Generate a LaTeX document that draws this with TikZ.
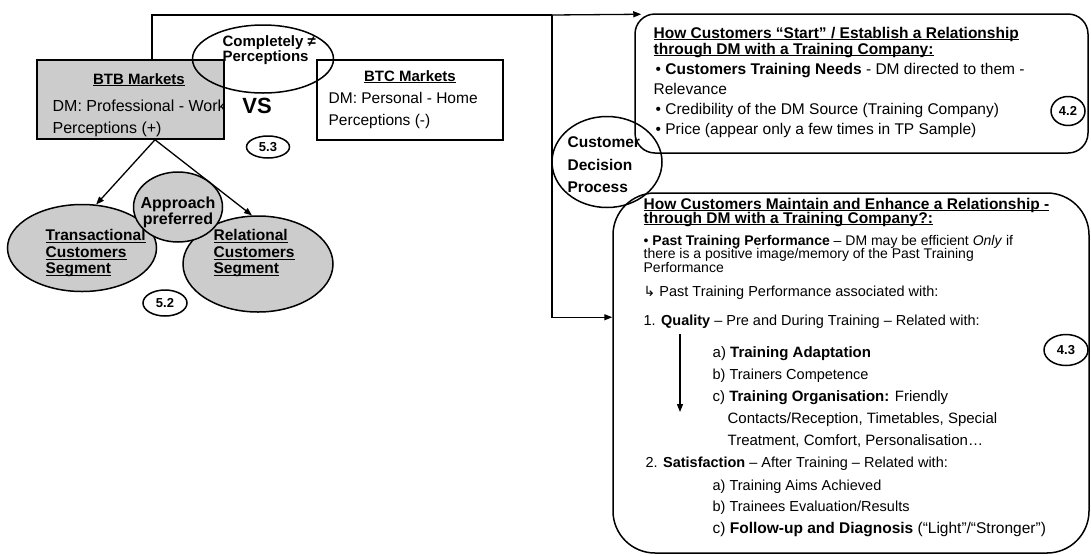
\documentclass[tikz,border=0pt]{standalone}
\usepackage{fontspec}
\setmainfont{Liberation Sans}
\newfontfamily\symfont{DejaVu Sans}
\usetikzlibrary{shapes.geometric,arrows.meta,calc}

% underlined heading text with a rule just below the baseline
\newsavebox\hdbox
\newcommand\hd[1]{\sbox\hdbox{#1}\usebox\hdbox\llap{\rule[-2.2pt]{\wd\hdbox}{1.1pt}}}
\newcommand\fsz[1]{\fontsize{#1}{#1}\selectfont}

\begin{document}
\begin{tikzpicture}[x=1pt,y=-1pt,
  line width=1.3pt,
  >={Triangle[length=8pt,width=6pt]},
  txt/.style={inner sep=0pt,anchor=base west,font=\fsz{15}},
  htxt/.style={inner sep=0pt,anchor=base west,font=\fsz{15.5}\bfseries},
  ctxt/.style={inner sep=0pt,anchor=base,font=\fsz{15}\bfseries},
  shade/.style={fill=black!20},
  oval/.style={ellipse,draw,line width=1.5pt,inner sep=0pt},
  tag/.style={ellipse,draw,line width=1.5pt,inner sep=0pt,font=\fsz{13}\bfseries},
  frame/.style={draw,line width=1.5pt,inner sep=0pt}
]
\useasboundingbox (0,0) rectangle (1091,555);

% ---------- market boxes ----------
\node[frame,shade,minimum width=187,minimum height=79] (btb) at (130.5,99.5) {};
\node[frame,fill=white,minimum width=186,minimum height=80] (btc) at (410,100) {};

\node[ctxt] (btbt) at (139,84) {\hd{BTB Markets}};
\begin{scope}
  \clip (btb.north west) rectangle (btb.south east);
  \node[txt,font=\fsz{16}] (btb1) at (52,111) {DM: Professional - Work};
\end{scope}
\node[txt,font=\fsz{16}] (btb2) at (52,133) {Perceptions (+)};

\node[ctxt] (btct) at (410,81) {\hd{BTC Markets}};
\node[txt,font=\fsz{15.5}] (btc1) at (328,103) {DM: Personal - Home};
\node[txt,font=\fsz{15.5}] (btc2) at (328,125) {Perceptions (-)};

\node[inner sep=0pt,anchor=base,font=\fsz{22}\bfseries] (vs) at (257,113) {VS};
\node[tag,minimum width=43,minimum height=22] (n53) at (268,147) {5.3};

% ---------- perceptions ellipse ----------
\node[oval,minimum width=141,minimum height=68] (cmp) at (263,59) {};
\node[inner sep=0pt,anchor=base west,font=\fsz{15}\bfseries] (cmp1) at (222,46) {Completely ≠};
\node[inner sep=0pt,anchor=base west,font=\fsz{15}\bfseries] (cmp2) at (222,61) {Perceptions};

% ---------- customer segments ----------
\node[oval,shade,minimum width=149,minimum height=87] (trans) at (82,248) {};
\node[oval,shade,minimum width=150,minimum height=96] (rel) at (258,264) {};
\node[oval,shade,minimum width=89,minimum height=70] (appr) at (178,207) {};

\node[htxt] (tr1) at (45,240.5) {\hd{Transactional}};
\node[htxt] (tr2) at (45,257.5) {\hd{Customers}};
\node[htxt] (tr3) at (45,273.5) {\hd{Segment}};
\node[htxt] (re1) at (213,240.5) {\hd{Relational}};
\node[htxt] (re2) at (213,257.5) {\hd{Customers}};
\node[htxt] (re3) at (213,273.5) {\hd{Segment}};
\node[ctxt,font=\fsz{16}\bfseries] (ap1) at (178,208.5) {Approach};
\node[ctxt,font=\fsz{16}\bfseries] (ap2) at (178,224.5) {preferred};

\node[tag,minimum width=44,minimum height=26] (n52) at (165,303) {5.2};

\coordinate (apex) at ($(btb.south)+(24.5,0)$);
\draw[->] (apex) -- (trans.72);
\draw[->] (apex) -- (rel.97);

% ---------- decision process ----------
\node[frame,rounded corners=20,minimum width=453,minimum height=139] (tbox) at (861.5,83.5) {};
\node[frame,rounded corners=42,minimum width=476,minimum height=360] (bbox) at (851,373) {};
\node[oval,minimum width=110,minimum height=91] (cdp) at (607,162) {};
\node[inner sep=0pt,anchor=base west,font=\fsz{15.5}\bfseries] (cdp1) at (567,147) {Customer};
\node[inner sep=0pt,anchor=base west,font=\fsz{15.5}\bfseries] (cdp2) at (567,170) {Decision};
\node[inner sep=0pt,anchor=base west,font=\fsz{15.5}\bfseries] (cdp3) at (567,192) {Process};

% connectors from the BTB box to both stages
\coordinate (split) at (552,15);
\draw ($(btb.north)+(21.5,0)$) |- (split);
\draw[->] (split) -- ($(tbox.north west)+(7,1)$);
\draw[->] (split) |- ($(bbox.north west)+(0,125)$);

% ---------- establishing a relationship ----------
\node[htxt] (t1) at (653,38) {\hd{How Customers “Start” / Establish a Relationship}};
\node[htxt] (t2) at (653,54) {\hd{through DM with a Training Company:}};
\node[txt,font=\fsz{15.5}] (t3) at (655,74) {• \textbf{Customers Training Needs} - DM directed to them -};
\node[txt,font=\fsz{15.5}] (t4) at (653,94) {Relevance};
\node[txt,font=\fsz{15.5}] (t5) at (655,114) {• Credibility of the DM Source (Training Company)};
\node[txt,font=\fsz{15.5}] (t6) at (655,134) {• Price (appear only a few times in TP Sample)};
\node[tag,minimum width=34,minimum height=29] (n42) at (1068,111) {4.2};

% ---------- maintaining a relationship ----------
\node[htxt] (b1) at (643,209) {\hd{How Customers Maintain and Enhance a Relationship -}};
\node[htxt] (b2) at (643,223) {\hd{through DM with a Training Company?:}};
\node[txt,font=\fsz{14}] (b3) at (643,245) {• \textbf{Past Training Performance} – DM may be efficient \textit{Only} if};
\node[txt,font=\fsz{14}] (b4) at (643,258.5) {there is a positive image/memory of the Past Training};
\node[txt,font=\fsz{14}] (b5) at (643,272) {Performance};
\node[txt,font=\fsz{14.5}] (b6) at (643,296) {{\symfont\fsz{14}↳} Past Training Performance associated with:};
\node[txt,font=\fsz{14.5}] (b7) at (643,325) {1. \textbf{Quality} – Pre and During Training – Related with:};
\node[txt,font=\fsz{15}] (b8) at (712,357) {a) \textbf{Training Adaptation}};
\node[txt,font=\fsz{14.5}] (b9) at (712,379) {b) Trainers Competence};
\node[txt,font=\fsz{15}] (b10) at (712,401) {c) \textbf{Training Organisation:} Friendly};
\node[txt] (b11) at (727,423) {Contacts/Reception, Timetables, Special};
\node[txt] (b12) at (727,445) {Treatment, Comfort, Personalisation…};
\node[txt,font=\fsz{14.5}] (b13) at (645,467) {2. \textbf{Satisfaction} – After Training – Related with:};
\node[txt,font=\fsz{14.5}] (b14) at (712,490) {a) Training Aims Achieved};
\node[txt,font=\fsz{14.5}] (b15) at (712,511) {b) Trainees Evaluation/Results};
\node[txt,font=\fsz{15.5}] (b16) at (712,533) {c) \textbf{Follow-up and Diagnosis} (“Light”/“Stronger”)};
\node[tag,minimum width=44,minimum height=31] (n43) at (1066,350) {4.3};

\coordinate (qtop) at (680,334);
\coordinate (qbot) at (680,412);
\draw[->] (qtop) -- (qbot);
\end{tikzpicture}
\end{document}
